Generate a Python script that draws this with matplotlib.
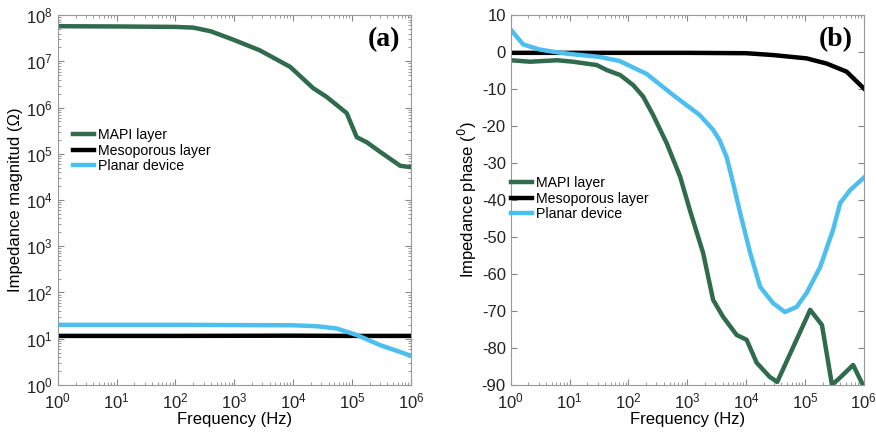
import matplotlib.pyplot as plt
import numpy as np
from matplotlib.ticker import LogLocator, NullFormatter, MultipleLocator

plt.rcParams['font.family'] = ['Liberation Sans', 'DejaVu Sans']
plt.rcParams['axes.unicode_minus'] = False

# panel (a): log10 frequency / log10 |Z|
mapi_mag_logf = [0, 1, 2, 2.3, 2.6, 3.0, 3.43, 3.95, 4.34, 4.57, 4.91, 5.08, 5.25, 5.48, 5.82, 6.0]
mapi_mag_logz = [7.76, 7.755, 7.745, 7.73, 7.65, 7.46, 7.24, 6.88, 6.42, 6.23, 5.88, 5.36, 5.25, 5.04, 4.74, 4.71]
meso_mag_logf = [0, 2, 4, 5, 6]
meso_mag_logz = [1.06, 1.06, 1.065, 1.06, 1.06]
planar_mag_logf = [0, 2, 4, 4.4, 4.74, 5.08, 5.48, 5.8, 6.0]
planar_mag_logz = [1.30, 1.30, 1.29, 1.27, 1.22, 1.08, 0.86, 0.72, 0.63]

# panel (b): log10 frequency / phase in degrees
mapi_ph_logf = [0, 0.33, 0.79, 1.06, 1.46, 1.64, 1.86, 2.08, 2.25, 2.42, 2.65, 2.88, 3.05, 3.27, 3.44,
                3.61, 3.84, 4.01, 4.18, 4.4, 4.53, 5.09, 5.29, 5.46, 5.6, 5.82, 6.0]
mapi_ph = [-2.2, -2.6, -2.2, -2.6, -3.5, -4.9, -6.2, -8.9, -12, -17, -24.6, -33.7, -43, -54.3, -67,
           -71.6, -76.5, -77.8, -84, -87.8, -89.2, -69.7, -73.8, -90, -88, -84.6, -90.5]
meso_ph_logf = [0, 1, 2, 3, 4, 4.46, 5.03, 5.37, 5.71, 6.0]
meso_ph = [-0.2, -0.2, -0.2, -0.2, -0.3, -0.8, -1.7, -3.1, -5.3, -9.8]
planar_ph_logf = [0, 0.21, 0.49, 0.72, 1.0, 1.51, 1.85, 2.31, 2.76, 3.21, 3.44, 3.55, 3.67, 3.78, 3.9,
                  4.07, 4.24, 4.46, 4.66, 4.86, 5.03, 5.26, 5.48, 5.6, 5.77, 6.0]
planar_ph = [6.1, 2.1, 0.7, 0.1, -0.5, -1.3, -2.4, -5.9, -11.6, -17, -21, -23.8, -28.4, -35.4, -43.5,
             -54.3, -63.5, -67.9, -70.3, -68.9, -65.1, -58.1, -48, -40.8, -37.3, -34]

GREEN = '#2f6b4c'
BLUE = '#4dbfee'
LW = 3.2

fig = plt.figure(figsize=(8.76, 4.32), dpi=100)
ax1 = fig.add_axes([0.066, 0.109, 0.403, 0.856])
ax2 = fig.add_axes([0.583, 0.109, 0.403, 0.856])

ax1.plot(10 ** np.array(mapi_mag_logf), 10 ** np.array(mapi_mag_logz), color=GREEN, lw=LW, label='MAPI layer')
ax1.plot(10 ** np.array(meso_mag_logf), 10 ** np.array(meso_mag_logz), color='black', lw=LW, label='Mesoporous layer')
ax1.plot(10 ** np.array(planar_mag_logf), 10 ** np.array(planar_mag_logz), color=BLUE, lw=LW, label='Planar device')
ax1.set_xscale('log')
ax1.set_yscale('log')
ax1.set_xlim(1, 1e6)
ax1.set_ylim(1, 1e8)
ax1.set_yticks([10.0 ** k for k in range(9)])
ax1.yaxis.set_minor_locator(LogLocator(base=10, subs=np.arange(2, 10), numticks=20))
ax1.yaxis.set_minor_formatter(NullFormatter())
ax1.set_ylabel('Impedance magnitud (Ω)', fontsize=12, labelpad=2)
ax1.text(0.97, 0.935, '(a)', transform=ax1.transAxes, ha='right', va='center',
         fontsize=20, fontweight='bold', family='Liberation Serif')
ax1.legend(loc='upper left', bbox_to_anchor=(0.042, 0.695), frameon=False, fontsize=10.2,
           handlelength=1.5, handletextpad=0.3, labelspacing=0.12, borderaxespad=0, borderpad=0)

ax2.plot(10 ** np.array(mapi_ph_logf), mapi_ph, color=GREEN, lw=LW, label='MAPI layer')
ax2.plot(10 ** np.array(meso_ph_logf), meso_ph, color='black', lw=LW, label='Mesoporous layer')
ax2.plot(10 ** np.array(planar_ph_logf), planar_ph, color=BLUE, lw=LW, label='Planar device')
ax2.set_xscale('log')
ax2.set_xlim(1, 1e6)
ax2.set_ylim(-90, 10)
ax2.yaxis.set_major_locator(MultipleLocator(10))
ax2.set_ylabel('Impedance phase ($^0$)', fontsize=12, labelpad=2)
ax2.text(0.97, 0.935, '(b)', transform=ax2.transAxes, ha='right', va='center',
         fontsize=20, fontweight='bold', family='Liberation Serif')
ax2.legend(loc='upper left', bbox_to_anchor=(0.0, 0.565), frameon=False, fontsize=10.2,
           handlelength=1.5, handletextpad=0.3, labelspacing=0.12, borderaxespad=0, borderpad=0)

for ax in (ax1, ax2):
    ax.set_xticks([10.0 ** k for k in range(7)])
    ax.xaxis.set_minor_locator(LogLocator(base=10, subs=np.arange(2, 10), numticks=20))
    ax.xaxis.set_minor_formatter(NullFormatter())
    ax.set_xlabel('Frequency (Hz)', fontsize=12, labelpad=0)
    ax.tick_params(which='both', direction='in', top=True, right=True, colors='#888888',
                   labelcolor='#222222', labelsize=12)
    ax.tick_params(which='major', length=4)
    ax.tick_params(which='minor', length=2)
    ax.tick_params(axis='x', which='major', pad=5)
    for s in ax.spines.values():
        s.set_color('#999999')
        s.set_linewidth(0.8)

fig.savefig('out.png', dpi=100)
